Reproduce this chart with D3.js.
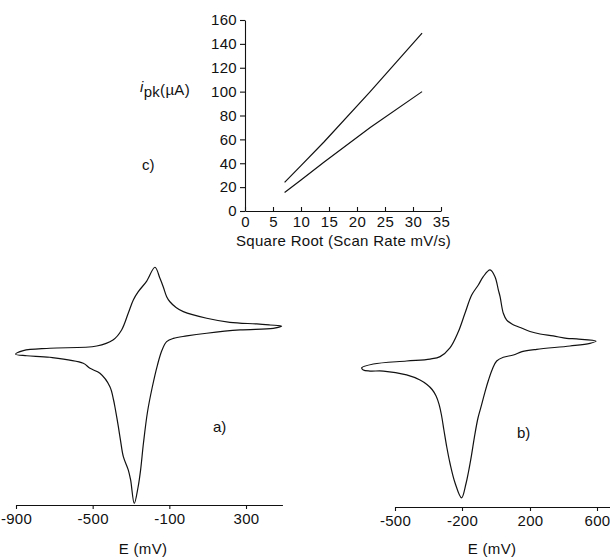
<!DOCTYPE html>
<html><head><meta charset="utf-8">
<script src="https://cdn.jsdelivr.net/npm/d3@7"></script>
<style>
body{margin:0;background:#fff;}
text{font-family:"Liberation Sans",Arial,Helvetica,sans-serif;fill:#111;}
</style></head><body>
<svg id="c" width="610" height="559"></svg>
<script>
// ---- panel c : peak current vs sqrt(scan rate)
const sqrtRate = [7.07, 10, 14.14, 22.36, 31.62];
const ipkUpper = [24, 38, 58, 100, 149];
const ipkLower = [15.5, 26, 41, 70, 100];
const cTicksX = [0, 5, 10, 15, 20, 25, 30, 35];
const cTicksY = [0, 20, 40, 60, 80, 100, 120, 140, 160];

// ---- panel a : cyclic voltammogram (E in mV, current arbitrary units)
const cvA_E = [-902,-862,-723,-479,-394,-349,-314,-288,-262,-218,-175,-149,-132,-114,-97,-65,-27,95,216,356,425,486,442,269,95,-9,-79,-114,-138,-162,-190,-214,-235,-250,-263,-283,-302,-314,-340,-355,-366,-384,-391,-410,-462,-514,-549,-723,-844];
const cvA_I = [-9.5,-7.1,-5.5,-4,0,6.7,18,26.7,32.2,39.3,48.5,41.1,35.5,28.9,25.5,21.7,18.9,14.5,11.8,10.7,10,9.3,7.8,6.7,4.5,2.7,1.1,-1.1,-6.7,-16.7,-32,-48,-68.7,-86.7,-98,-108.9,-93.3,-86.7,-77.8,-66.7,-57.8,-44.5,-40,-31.1,-22.2,-18.9,-15.5,-11.5,-10.5];
const aTicks = [-900, -500, -100, 300];

// ---- panel b : cyclic voltammogram
const cvB_E = [-649,-597,-448,-343,-298,-254,-217,-182,-143,-104,-75,-35,-6,14,24,43,63,94,153,200,260,339,419,479,594,558,439,240,153,102,43,4,-21,-44,-65,-85,-106,-127,-144,-162,-177,-202,-231,-254,-269,-281,-292,-303,-316,-334,-357,-388,-448,-552,-612,-642];
const cvB_I = [-8.5,-6,-4,-2.7,-1.1,4.7,15.3,28,40,46.7,52.2,56.7,52.2,43.3,38.9,27.8,23.3,20.7,17.8,15.7,14,12.7,11.1,10.7,9.3,7.8,6,3.8,2.2,0,-1.5,-4,-9.3,-16.7,-24.7,-33.3,-42,-54.7,-66.7,-78,-86,-95.2,-85.3,-72,-60.7,-50,-40,-32.7,-27.3,-23,-19.7,-16.7,-13.3,-10.7,-10.7,-10];
const bTicks = [-500, -200, 200, 600];

const svg = d3.select("#c");
const FS = 15;
const ink = "#111";
const fmt = d => String(d); // plain hyphen minus as in the original

function styleAxis(g){
  g.selectAll("path,line").attr("stroke", ink).attr("stroke-width", 1.1);
  g.selectAll("text").attr("font-size", FS).attr("fill", ink).attr("letter-spacing", 0.3)
    .attr("font-family", '"Liberation Sans",Arial,sans-serif');
}

// ===== panel c =====
const xC = d3.scaleLinear().domain([0, 35]).range([245, 441]);
const yC = d3.scaleLinear().domain([0, 160]).range([211, 20]);
svg.append("g").attr("transform", `translate(0,${yC(0)})`)
  .call(d3.axisBottom(xC).tickValues(cTicksX).tickSizeInner(-4).tickSizeOuter(0).tickPadding(5).tickFormat(fmt))
  .call(styleAxis);
svg.append("g").attr("transform", `translate(${xC(0)},0)`)
  .call(d3.axisLeft(yC).tickValues(cTicksY).tickSizeInner(5).tickSizeOuter(0).tickPadding(3).tickFormat(fmt))
  .call(styleAxis);
const lineC = d3.line().x((d,i)=>xC(sqrtRate[i])).y(d=>yC(d));
[ipkUpper, ipkLower].forEach(s=>{
  svg.append("path").attr("d", lineC(s)).attr("fill","none").attr("stroke",ink).attr("stroke-width",1.2);
});
svg.append("text").attr("x", 236).attr("y", 246).attr("font-size", FS).attr("letter-spacing",0.3).text("Square Root (Scan Rate mV/s)");
const yl = svg.append("text").attr("x", 140).attr("y", 95).attr("font-size", FS).attr("letter-spacing",0.3);
yl.append("tspan").attr("font-style","italic").attr("dy",-3).text("i");
yl.append("tspan").attr("dy",5).text("pk");
yl.append("tspan").attr("dy",-2).text("(\u00b5A)");
svg.append("text").attr("x", 142).attr("y", 170).attr("font-size", FS).text("c)");

// ===== panel a =====
const xA = d3.scaleLinear().domain([-900, 490]).range([16, 16 + 1390 * 76.67 / 400]);
const yA = d3.scaleLinear().domain([-110, 50]).range([505, 265]);
svg.append("g").attr("transform", `translate(0,505)`)
  .call(d3.axisBottom(xA).tickValues(aTicks).tickSizeInner(4).tickSizeOuter(0).tickPadding(4).tickFormat(fmt))
  .call(styleAxis);
const lineA = d3.line().x((d,i)=>xA(cvA_E[i])).y(d=>yA(d)).curve(d3.curveCatmullRomClosed.alpha(0.5));
svg.append("path").attr("d", lineA(cvA_I)).attr("fill","none").attr("stroke",ink).attr("stroke-width",1.2);
svg.append("text").attr("x", 143).attr("y", 554).attr("text-anchor","middle").attr("font-size", FS).attr("letter-spacing",0.3).text("E (mV)");
svg.append("text").attr("x", 213).attr("y", 432).attr("font-size", FS).text("a)");

// ===== panel b =====
const xB = d3.scaleLinear().domain([-500, -200, 200, 600, 680]).range([395, 462, 530, 597, 610.4]);
const yB = d3.scaleLinear().domain([-100, 60]).range([505, 265]);
svg.append("g").attr("transform", `translate(0,507)`)
  .call(d3.axisBottom(xB).tickValues(bTicks).tickSizeInner(4).tickSizeOuter(0).tickPadding(4).tickFormat(fmt))
  .call(styleAxis);
const lineB = d3.line().x((d,i)=>xB(cvB_E[i])).y(d=>yB(d)).curve(d3.curveCatmullRomClosed.alpha(0.5));
svg.append("path").attr("d", lineB(cvB_I)).attr("fill","none").attr("stroke",ink).attr("stroke-width",1.2);
svg.append("text").attr("x", 492).attr("y", 554).attr("text-anchor","middle").attr("font-size", FS).attr("letter-spacing",0.3).text("E (mV)");
svg.append("text").attr("x", 517).attr("y", 438).attr("font-size", FS).text("b)");
</script>
</body></html>
